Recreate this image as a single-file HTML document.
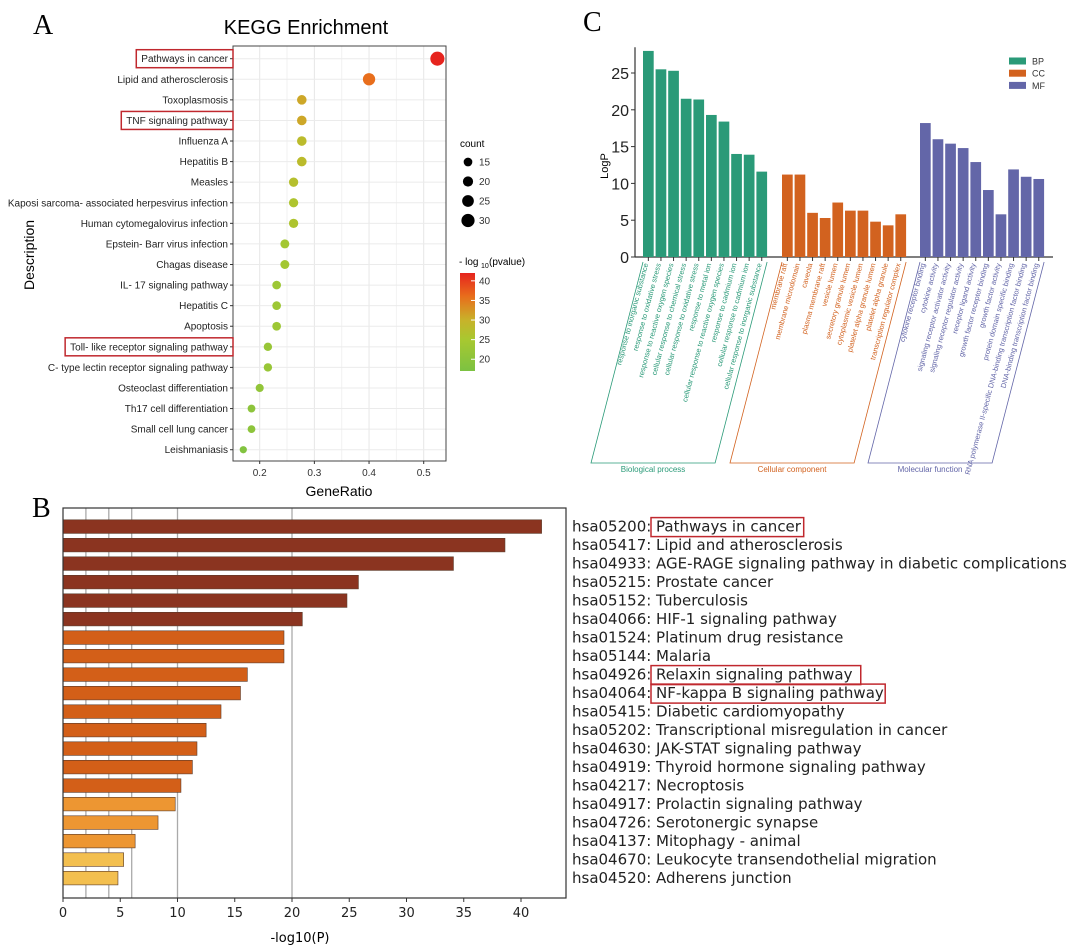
<!DOCTYPE html>
<html><head><meta charset="utf-8"><style>
html,body{margin:0;padding:0;background:#fff;width:1080px;height:948px;overflow:hidden}
svg{display:block}
</style></head><body>
<svg id="fig" width="1080" height="948" xmlns="http://www.w3.org/2000/svg" font-family="Liberation Sans, sans-serif">
<text x="33" y="34" font-family="Liberation Serif, serif" font-size="28">A</text>
<text x="583" y="31" font-family="Liberation Serif, serif" font-size="28">C</text>
<text x="32" y="517" font-family="Liberation Serif, serif" font-size="28">B</text>
<g id="pa"></g>
<g id="pb"></g>
<g id="pc"></g>
</svg>
<script>
const NS='http://www.w3.org/2000/svg';
function mk(p,t,a,txt){const e=document.createElementNS(NS,t);for(const k in a)e.setAttribute(k,a[k]);if(txt!==undefined)e.textContent=txt;p.appendChild(e);return e;}

// ---------- Panel A data ----------
const aTerms=["Pathways in cancer","Lipid and atherosclerosis","Toxoplasmosis","TNF signaling pathway","Influenza A","Hepatitis B","Measles","Kaposi sarcoma- associated herpesvirus infection","Human cytomegalovirus infection","Epstein- Barr virus infection","Chagas disease","IL- 17 signaling pathway","Hepatitis C","Apoptosis","Toll- like receptor signaling pathway","C- type lectin receptor signaling pathway","Osteoclast differentiation","Th17 cell differentiation","Small cell lung cancer","Leishmaniasis"];
const aRatio=[0.525,0.40,0.277,0.277,0.277,0.277,0.262,0.262,0.262,0.246,0.246,0.231,0.231,0.231,0.215,0.215,0.200,0.185,0.185,0.170];
const aLogP=[42,36,31,31,28,28,27,26,26,24,24,23,23,23,22,22,21,20,20,18];
const aCount=[33,27,18,18,18,18,17,17,17,16,16,15,15,15,14,14,13,12,12,10];
const aHighlight=["Pathways in cancer","TNF signaling pathway","Toll- like receptor signaling pathway"];
const aXTicks=[0.2,0.3,0.4,0.5];
const aLegendCounts=[15,20,25,30];
const aColorTicks=[20,25,30,35,40];

const pa=document.getElementById('pa');
const AX0=233,AX1=446,AY0=46,AY1=461;
const ax=v=>259.7+(v-0.2)*546.7;
const ay=i=>58.7+i*20.58;
const ar=c=>2.1+c*0.15;
const stops=[[17,[124,194,66]],[25,[168,200,48]],[30,[200,178,42]],[36,[232,110,28]],[42,[230,36,30]]];
function acol(v){for(let i=0;i<stops.length-1;i++){const[a,ca]=stops[i],[b,cb]=stops[i+1];if(v<=b||i==stops.length-2){const t=Math.max(0,Math.min(1,(v-a)/(b-a)));return 'rgb('+ca.map((c,j)=>Math.round(c+(cb[j]-c)*t)).join(',')+')';}}}
mk(pa,'text',{x:306,y:34,'font-size':20,'text-anchor':'middle'},'KEGG Enrichment');
mk(pa,'rect',{x:AX0,y:AY0,width:AX1-AX0,height:AY1-AY0,fill:'#fff'});
for(let k=3;k<=11;k++){const v=k*0.05;const x=ax(v);if(x>AX0&&x<AX1)mk(pa,'line',{x1:x,x2:x,y1:AY0,y2:AY1,stroke:k%2==0?'#e6e6e6':'#f2f2f2','stroke-width':1});}
aTerms.forEach((t,i)=>{mk(pa,'line',{x1:AX0,x2:AX1,y1:ay(i),y2:ay(i),stroke:'#ebebeb'});});
mk(pa,'rect',{x:AX0,y:AY0,width:AX1-AX0,height:AY1-AY0,fill:'none',stroke:'#444','stroke-width':1});
aTerms.forEach((t,i)=>{
  const y=ay(i);
  mk(pa,'line',{x1:AX0-3,x2:AX0,y1:y,y2:y,stroke:'#333'});
  const tx=mk(pa,'text',{x:AX0-5,y:y+3.5,'font-size':10,'text-anchor':'end',fill:'#222'},t);
  
  
  if(aHighlight.includes(t)){const w=tx.getComputedTextLength()+8;const b=mk(pa,'rect',{x:AX0-w-2,y:y-9,width:w+2,height:18,fill:'none',stroke:'#c0282e','stroke-width':1.5});
    }
  const c=mk(pa,'circle',{cx:ax(aRatio[i]),cy:y,r:ar(aCount[i]),fill:acol(aLogP[i])});
  
  
});
aXTicks.forEach(v=>{const x=ax(v);mk(pa,'line',{x1:x,x2:x,y1:AY1,y2:AY1+3,stroke:'#333'});
  const t=mk(pa,'text',{x:x,y:AY1+15,'font-size':10,'text-anchor':'middle',fill:'#333'},v.toFixed(1));});
mk(pa,'text',{x:339,y:496,'font-size':14,'text-anchor':'middle'},'GeneRatio');
mk(pa,'text',{x:34,y:255,'font-size':14,'text-anchor':'middle',transform:'rotate(-90 34 255)'},'Description');
mk(pa,'text',{x:460,y:147,'font-size':10},'count');
aLegendCounts.forEach((c,i)=>{const y=162+i*19.5;const d=mk(pa,'circle',{cx:468,cy:y,r:ar(c),fill:'#000'});
  mk(pa,'text',{x:479,y:y+3.5,'font-size':10,fill:'#333'},String(c));});
const lt=mk(pa,'text',{x:459,y:265,'font-size':10},'- log');
mk(pa,'text',{x:481,y:268,'font-size':7},'10');mk(pa,'text',{x:489,y:265,'font-size':10},'(pvalue)');
const defs=mk(pa,'defs',{});const lg=mk(defs,'linearGradient',{id:'cg',x1:0,y1:1,x2:0,y2:0});
const CB0=371,CB1=273,cmin=17,cmax=42;
stops.forEach(s=>mk(lg,'stop',{offset:((s[0]-cmin)/(cmax-cmin)),'stop-color':'rgb('+s[1].join(',')+')'}));
mk(pa,'rect',{x:460,y:CB1,width:15,height:CB0-CB1,fill:'url(#cg)'});
aColorTicks.forEach(v=>{const y=CB0-(v-cmin)/(cmax-cmin)*(CB0-CB1);mk(pa,'line',{x1:471,x2:475,y1:y,y2:y,stroke:'#fff'});mk(pa,'text',{x:479,y:y+3.5,'font-size':10,fill:'#333'},String(v));});

// ---------- Panel B data ----------
const bIds=["hsa05200","hsa05417","hsa04933","hsa05215","hsa05152","hsa04066","hsa01524","hsa05144","hsa04926","hsa04064","hsa05415","hsa05202","hsa04630","hsa04919","hsa04217","hsa04917","hsa04726","hsa04137","hsa04670","hsa04520"];
const bNames=["Pathways in cancer","Lipid and atherosclerosis","AGE-RAGE signaling pathway in diabetic complications","Prostate cancer","Tuberculosis","HIF-1 signaling pathway","Platinum drug resistance","Malaria","Relaxin signaling pathway","NF-kappa B signaling pathway","Diabetic cardiomyopathy","Transcriptional misregulation in cancer","JAK-STAT signaling pathway","Thyroid hormone signaling pathway","Necroptosis","Prolactin signaling pathway","Serotonergic synapse","Mitophagy - animal","Leukocyte transendothelial migration","Adherens junction"];
const bVals=[41.8,38.6,34.1,25.8,24.8,20.9,19.3,19.3,16.1,15.5,13.8,12.5,11.7,11.3,10.3,9.8,8.3,6.3,5.3,4.8];
const bHighlight=["Pathways in cancer","Relaxin signaling pathway","NF-kappa B signaling pathway"];
const bTicks=[0,5,10,15,20,25,30,35,40];
const bGrid=[2,4,6,10,20];
const pb=document.getElementById('pb');
const BX0=63,BX1=566,BY0=508,BY1=898;
const bx=v=>BX0+v*11.45;
const by=i=>526.6+i*18.5;
function bcol(v){if(v>=20.5)return '#8b3420';if(v>=10)return '#d35f18';if(v>=6)return '#ed9632';return '#f3bf4f';}
bGrid.forEach(v=>mk(pb,'line',{x1:bx(v),x2:bx(v),y1:BY0,y2:BY1,stroke:'#aaa','stroke-width':1.3}));
bVals.forEach((v,i)=>{const r=mk(pb,'rect',{x:BX0,y:by(i)-6.8,width:bx(v)-BX0,height:13.6,fill:bcol(v),stroke:'#5a3a2a','stroke-width':0.6});
  
  const t=mk(pb,'text',{x:572,y:by(i)+5,'font-size':15,'font-family':'DejaVu Sans, sans-serif',fill:'#222'},bIds[i]+': '+bNames[i]);
  
  if(bHighlight.includes(bNames[i])){const x0=651;const w=bNames[i].length*8.15+6;const hb=mk(pb,'rect',{x:x0,y:by(i)-9,width:w,height:19,fill:'none',stroke:'#c0282e','stroke-width':1.5});
    }
});
mk(pb,'rect',{x:BX0,y:BY0,width:BX1-BX0,height:BY1-BY0,fill:'none',stroke:'#333','stroke-width':1.2});
bTicks.forEach(v=>{mk(pb,'line',{x1:bx(v),x2:bx(v),y1:BY1,y2:BY1+4,stroke:'#333'});
  const t=mk(pb,'text',{x:bx(v),y:BY1+19,'font-size':13,'font-family':'DejaVu Sans, sans-serif','text-anchor':'middle',fill:'#222'},String(v));});
mk(pb,'text',{x:300,y:942,'font-size':13,'font-family':'DejaVu Sans, sans-serif','text-anchor':'middle'},'-log10(P)');

// ---------- Panel C data ----------
const cBP=["response to inorganic substance","response to oxidative stress","response to reactive oxygen species","cellular response to chemical stress","cellular response to oxidative stress","response to metal ion","cellular response to reactive oxygen species","response to cadmium ion","cellular response to cadmium ion","cellular response to inorganic substance"];
const cCC=["membrane raft","membrane microdomain","caveola","plasma membrane raft","vesicle lumen","secretory granule lumen","cytoplasmic vesicle lumen","platelet alpha granule lumen","platelet alpha granule","transcription regulator complex"];
const cMF=["cytokine receptor binding","cytokine activity","signaling receptor activator activity","signaling receptor regulator activity","receptor ligand activity","growth factor receptor binding","growth factor activity","protein domain specific binding","RNA polymerase II-specific DNA-binding transcription factor binding","DNA-binding transcription factor binding"];
const cBPv=[28,25.5,25.3,21.5,21.4,19.3,18.4,14,13.9,11.6];
const cCCv=[11.2,11.2,6,5.3,7.4,6.3,6.3,4.8,4.3,5.8];
const cMFv=[18.2,16,15.4,14.8,12.9,9.1,5.8,11.9,10.9,10.6];
const cYTicks=[0,5,10,15,20,25];
const cGroups=[["BP","Biological process","#2a9a78",cBP,cBPv,643],["CC","Cellular component","#d2621f",cCC,cCCv,782],["MF","Molecular function","#6366a8",cMF,cMFv,920]];
const pc=document.getElementById('pc');
const CY0=257,CXa=635;
const cy=v=>CY0-v*7.36;
mk(pc,'line',{x1:CXa,x2:CXa,y1:cy(28.5),y2:CY0,stroke:'#333','stroke-width':1.2});
mk(pc,'line',{x1:CXa,x2:1053,y1:CY0,y2:CY0,stroke:'#333','stroke-width':1.2});
cYTicks.forEach(v=>{mk(pc,'line',{x1:CXa-4,x2:CXa,y1:cy(v),y2:cy(v),stroke:'#333'});
  const t=mk(pc,'text',{x:CXa-6,y:cy(v)+6,'font-size':16,'text-anchor':'end',fill:'#222'},String(v));});
mk(pc,'text',{x:608,y:166,'font-size':11,'text-anchor':'middle',transform:'rotate(-90 608 166)'},'LogP');
cGroups.forEach(([k,name,col,labels,vals,x0])=>{
  vals.forEach((v,i)=>{const x=x0+i*12.6;const r=mk(pc,'rect',{x:x,y:cy(v),width:10.7,height:CY0-cy(v),fill:col});
    
    const cx=x+5.35;mk(pc,'line',{x1:cx,x2:cx,y1:CY0,y2:CY0+4,stroke:'#333'});
    const t=mk(pc,'text',{x:cx,y:CY0+7,'font-size':7.3,fill:col,'text-anchor':'end',transform:'rotate(-75 '+cx+' '+(CY0+7)+')'},labels[i]);
    });
  const xl=x0,xr=x0+9*12.6+10.7;
  const p=mk(pc,'polyline',{points:xl+','+(CY0+5)+' '+(xl-52)+',463 '+(xr-52)+',463 '+xr+','+(CY0+5),fill:'none',stroke:col,'stroke-width':0.8});
  
  const gt=mk(pc,'text',{x:(xl+xr)/2-52,y:472,'font-size':8,fill:col,'text-anchor':'middle'},name);
});
cGroups.forEach(([k,name,col],i)=>{const y=61+i*12.2;const r=mk(pc,'rect',{x:1009,y:y-3.5,width:17,height:7,fill:col});
  const t=mk(pc,'text',{x:1032,y:y+3.5,'font-size':9,fill:'#333'},k);});
</script>
</body></html>
